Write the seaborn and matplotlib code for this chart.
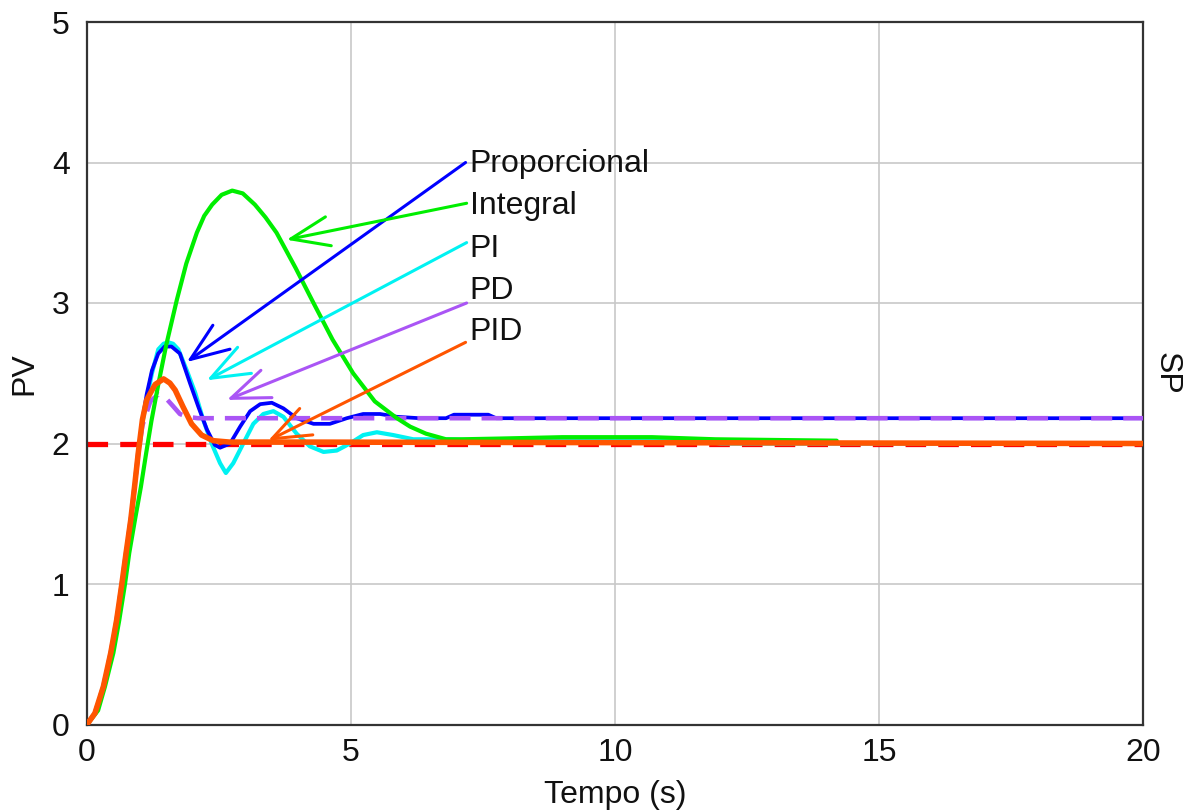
import matplotlib
matplotlib.use("Agg")
import matplotlib.pyplot as plt
import seaborn as sns
import pandas as pd

# ---------------- data ----------------
t_sp = [0, 20]
v_sp = [2.0, 2.0]

t_prop = [0, 0.15, 0.31, 0.45, 0.56, 0.66, 0.74, 0.83, 0.90, 0.97, 1.05, 1.13, 1.23, 1.35,
          1.47, 1.6, 1.76, 1.95, 2.11, 2.27, 2.42, 2.52, 2.71, 2.9, 3.09, 3.28, 3.5, 3.72,
          3.97, 4.29, 4.6, 4.92, 5.23, 5.55, 5.87, 6.3, 6.8, 6.95, 7.6, 7.75, 20]
v_prop = [0, 0.08, 0.27, 0.51, 0.74, 1.0, 1.22, 1.46, 1.69, 1.93, 2.17, 2.35, 2.52, 2.64,
          2.69, 2.69, 2.64, 2.43, 2.26, 2.10, 1.99, 1.97, 2.0, 2.12, 2.23, 2.28, 2.29, 2.25,
          2.18, 2.14, 2.14, 2.18, 2.21, 2.21, 2.19, 2.18, 2.18, 2.205, 2.205, 2.18, 2.18]

t_int = [0, 0.21, 0.34, 0.50, 0.61, 0.72, 0.80, 0.91, 1.02, 1.12, 1.22, 1.35, 1.5, 1.7,
         1.88, 2.08, 2.22, 2.37, 2.55, 2.75, 2.95, 3.18, 3.38, 3.59, 3.95, 4.29, 4.65, 5.04,
         5.45, 5.87, 6.12, 6.42, 6.8, 7.1, 7.8, 9.0, 10.7, 11.9, 14.2]
v_int = [0, 0.10, 0.27, 0.51, 0.74, 1.0, 1.22, 1.46, 1.69, 1.93, 2.16, 2.42, 2.70, 3.02,
         3.28, 3.50, 3.62, 3.70, 3.77, 3.80, 3.78, 3.70, 3.61, 3.50, 3.25, 3.00, 2.74, 2.50,
         2.30, 2.18, 2.12, 2.07, 2.03, 2.03, 2.035, 2.045, 2.045, 2.03, 2.02]

t_pi = [0, 0.15, 0.31, 0.45, 0.56, 0.66, 0.74, 0.83, 0.90, 0.97, 1.05, 1.13, 1.23, 1.35,
        1.45, 1.54, 1.63, 1.73, 1.89, 2.05, 2.2, 2.36, 2.52, 2.63, 2.77, 2.96, 3.15, 3.34,
        3.53, 3.72, 3.97, 4.22, 4.48, 4.73, 4.98, 5.23, 5.49, 5.8, 6.18, 6.8, 7.7, 10.0,
        11.6, 12.0, 20]
v_pi = [0, 0.08, 0.27, 0.51, 0.74, 1.0, 1.22, 1.46, 1.69, 1.93, 2.15, 2.31, 2.50, 2.67,
        2.71, 2.72, 2.71, 2.67, 2.52, 2.36, 2.17, 2.0, 1.86, 1.79, 1.86, 2.0, 2.14, 2.21,
        2.23, 2.19, 2.07, 1.98, 1.94, 1.95, 2.0, 2.06, 2.08, 2.06, 2.03, 2.03, 2.02, 2.02,
        2.02, 2.0, 2.0]

t_pd = [0, 0.15, 0.31, 0.45, 0.56, 0.66, 0.74, 0.83, 0.90, 0.97, 1.05, 1.2, 1.35, 1.5,
        1.62, 1.76, 1.9, 2.1, 2.4, 20]
v_pd = [0, 0.08, 0.27, 0.51, 0.74, 1.0, 1.22, 1.46, 1.69, 1.93, 2.13, 2.30, 2.35, 2.32,
        2.27, 2.21, 2.19, 2.18, 2.18, 2.18]

t_pid = [0, 0.15, 0.31, 0.45, 0.56, 0.66, 0.74, 0.83, 0.90, 0.97, 1.05, 1.13, 1.29, 1.45,
         1.57, 1.67, 1.82, 1.98, 2.17, 2.39, 2.7, 4.0, 20]
v_pid = [0, 0.08, 0.27, 0.51, 0.74, 1.0, 1.22, 1.46, 1.69, 1.93, 2.17, 2.31, 2.42, 2.46,
         2.43, 2.38, 2.26, 2.14, 2.06, 2.02, 2.01, 2.01, 2.0]

labels = ["Proporcional", "Integral", "PI", "PD", "PID"]
label_x = [7.25, 7.25, 7.25, 7.25, 7.25]
label_y = [3.93, 3.63, 3.33, 3.03, 2.74]
arrow_tail_x = [7.17, 7.19, 7.19, 7.19, 7.17]
arrow_tail_y = [4.00, 3.71, 3.43, 3.00, 2.72]
arrow_tip_x = [1.89, 3.78, 2.27, 2.65, 3.43]
arrow_tip_y = [2.58, 3.45, 2.45, 2.31, 2.02]

x_ticks = [0, 5, 10, 15, 20]
y_ticks = [0, 1, 2, 3, 4, 5]

# ---------------- styling ----------------
c_blue = "#0000ff"
c_green = "#00ee00"
c_cyan = "#00f2f2"
c_purple = "#aa55f5"
c_orange = "#ff5500"
c_red = "#ff0000"
arrow_colors = [c_blue, c_green, c_cyan, c_purple, c_orange]
text_color = "#111111"
fs = 23

sns.set_theme(style="white")
plt.rcParams["font.family"] = ["Liberation Sans", "DejaVu Sans"]

fig = plt.figure(figsize=(11.84, 8.11), dpi=100)
ax = fig.add_axes([87 / 1184, (811 - 724.5) / 811, 1056 / 1184, 702.5 / 811])

def draw(t, v, color, lw, z, ls="-"):
    df = pd.DataFrame({"t": t, "v": v})
    sns.lineplot(data=df, x="t", y="v", ax=ax, color=color, linewidth=lw,
                 sort=False, estimator=None, zorder=z, linestyle=ls)

draw(t_sp, v_sp, c_red, 3.8, 2, ls=(0, (3.9, 2.3)))
draw(t_pi, v_pi, c_cyan, 3.0, 3)
draw(t_prop, v_prop, c_blue, 2.7, 4)
draw(t_pd, v_pd, c_purple, 3.3, 5, ls=(0, (4.6, 2.4)))
draw(t_int, v_int, c_green, 3.0, 6)
draw(t_pid, v_pid, c_orange, 4.0, 7)

for i in range(len(labels)):
    ax.annotate("", xy=(arrow_tip_x[i], arrow_tip_y[i]),
                xytext=(arrow_tail_x[i], arrow_tail_y[i]),
                arrowprops=dict(arrowstyle="->,head_length=1.38,head_width=0.53",
                                color=arrow_colors[i], lw=2.2, shrinkA=0, shrinkB=0,
                                mutation_scale=20),
                zorder=8)
    ax.text(label_x[i], label_y[i], labels[i], ha="left", va="baseline",
            fontsize=fs, color=text_color, zorder=9)

ax.set_xlim(0, 20)
ax.set_ylim(0, 5)
ax.set_xticks(x_ticks)
ax.set_yticks(y_ticks)
ax.grid(True, color="#c8c8c8", linewidth=1.2)
ax.set_axisbelow(True)
for s in ax.spines.values():
    s.set_color("#333333")
    s.set_linewidth(1.6)
    s.set_visible(True)
ax.tick_params(axis="both", direction="inout", length=15, width=1.5, color="#333333",
               labelsize=fs, labelcolor=text_color)
ax.tick_params(axis="x", pad=2)
ax.tick_params(axis="y", pad=5)
ax.set_xlabel("Tempo (s)", fontsize=fs, color=text_color, labelpad=9)
ax.set_ylabel("PV", fontsize=fs, color=text_color)
ax.yaxis.set_label_coords(-0.045, 0.5)
ax.text(1.0 + 24 / 1056, 0.5, "SP", transform=ax.transAxes, rotation=270,
        ha="center", va="center", fontsize=fs, color=text_color)

fig.savefig("out.png", dpi=100)
